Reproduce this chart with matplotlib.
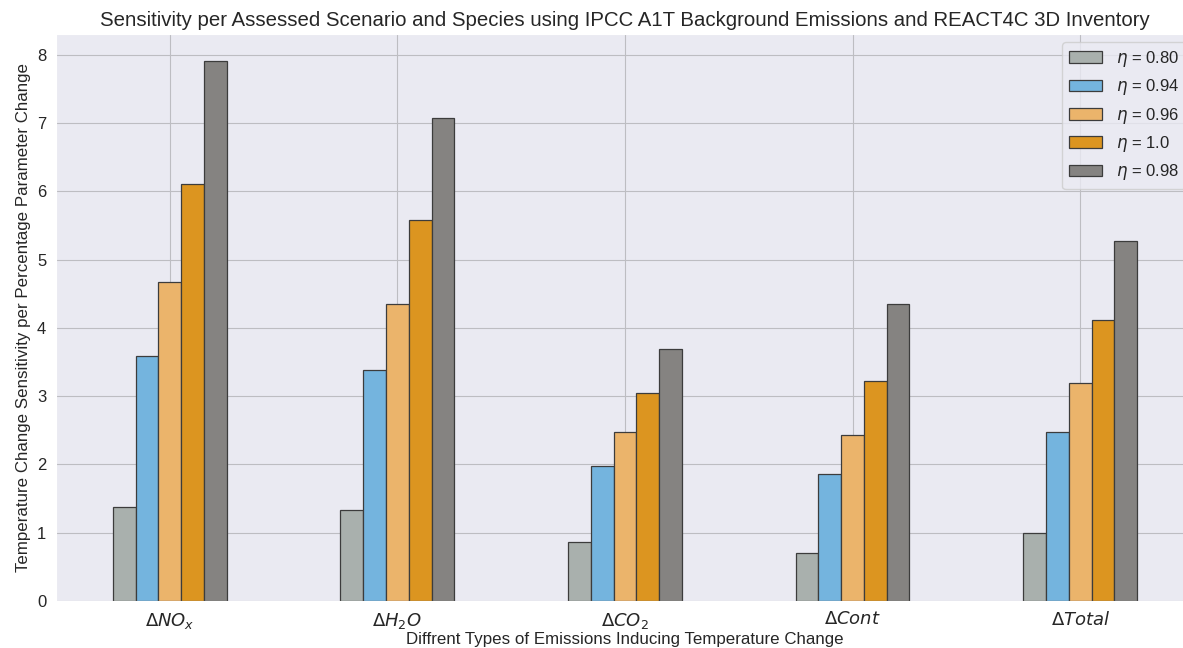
import numpy as np
import matplotlib
matplotlib.use("Agg")
import matplotlib.pyplot as plt
import seaborn as sns

# data
species = [r'$\Delta NO_x$', r'$\Delta H_2O$', r'$\Delta CO_2$', r'$\Delta Cont$', r'$\Delta Total$']
eta_labels = [r'$\eta$ = 0.80', r'$\eta$ = 0.94', r'$\eta$ = 0.96', r'$\eta$ = 1.0', r'$\eta$ = 0.98']
eta_080 = [1.38, 1.34, 0.86, 0.71, 0.99]
eta_094 = [3.59, 3.38, 1.98, 1.86, 2.48]
eta_096 = [4.68, 4.35, 2.47, 2.43, 3.20]
eta_100 = [6.11, 5.58, 3.05, 3.22, 4.12]
eta_098 = [7.91, 7.07, 3.69, 4.35, 5.28]
colors = ['#a9b0ad', '#74b4de', '#ebb46b', '#dc9520', '#858381']

sns.set_style("darkgrid", {"grid.color": "#bdbdc2"})
plt.rcParams['font.family'] = ['Liberation Sans', 'DejaVu Sans']
plt.rcParams['mathtext.fontset'] = 'dejavusans'

fig = plt.figure(figsize=(11.83, 6.48), dpi=100)
ax = fig.add_axes([0.0473, 0.0725, 0.962, 0.875])

x = np.arange(len(species))
width = 0.1
series = [eta_080, eta_094, eta_096, eta_100, eta_098]
for i, vals in enumerate(series):
    ax.bar(x + (i - 2) * width, vals, width, color=colors[i], label=eta_labels[i],
           edgecolor='#3c3c3c', linewidth=0.9)

ax.set_xlim(-0.5, 4.5)
ax.set_xticks(x)
ax.set_xticklabels(species, fontsize=13)
ax.tick_params(axis='y', labelsize=12)
ax.set_xlabel('Diffrent Types of Emissions Inducing Temperature Change', fontsize=12.2, labelpad=1)
ax.set_ylabel('Temperature Change Sensitivity per Percentage Parameter Change', fontsize=12.2)
ax.set_title('Sensitivity per Assessed Scenario and Species using IPCC A1T Background Emissions and REACT4C 3D Inventory',
             fontsize=14.7)
ax.legend(loc='upper right', fontsize=12)

plt.savefig('out.png', dpi=100)
